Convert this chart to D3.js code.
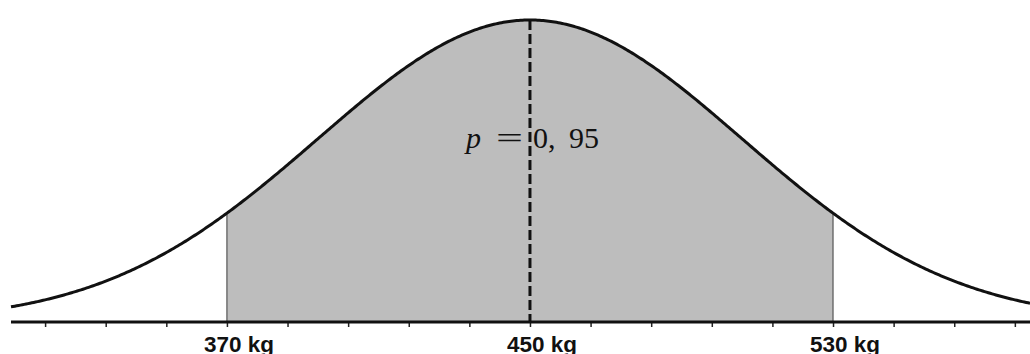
<!DOCTYPE html>
<html>
<head>
<meta charset="utf-8">
<script src="https://cdn.jsdelivr.net/npm/d3@7"></script>
<style>
	html, body { margin: 0; padding: 0; background: white; }
	svg { display: block; }
</style>
</head>
<body>
<div id="chart"></div>
<script>
// distribution and view
const mean = 450
const sigma = 56 // spread of the drawn bell
const xDomain = [313, 582]
const shadeRange = [370, 530]
const tickValues = [322, 338, 354, 370, 386, 402, 418, 434, 450, 466, 482, 498, 514, 530, 546, 562, 578]
const labelValues = [370, 450, 530]
const pValue = "0, 95"

const width = 1030
const height = 354

const svg = d3.select("#chart")
	.append("svg")
	.attr("width", width)
	.attr("height", height)

const x = d3.scaleLinear().domain(xDomain).range([11, 1030])

const pdf = (v) => Math.exp(-0.5 * ((v - mean) / sigma) ** 2)
const y = d3.scaleLinear().domain([0, 1]).range([322, 20])

// sample the density across the view
const samples = d3.range(xDomain[0], xDomain[1] + 0.5, 0.5).map((v) => ({ v, d: pdf(v) }))
const shaded = samples.filter((s) => s.v >= shadeRange[0] && s.v <= shadeRange[1])

const area = d3.area()
	.x((d) => x(d.v))
	.y0(y(0))
	.y1((d) => y(d.d))

const line = d3.line()
	.x((d) => x(d.v))
	.y((d) => y(d.d))

// shaded area
svg.append("path")
	.datum(shaded)
	.attr("d", area)
	.attr("fill", "#bdbdbd")

// boundary lines
svg.selectAll(".bound")
	.data(shadeRange)
	.enter()
	.append("line")
	.attr("class", "bound")
	.attr("x1", (d) => x(d))
	.attr("x2", (d) => x(d))
	.attr("y1", (d) => y(pdf(d)))
	.attr("y2", y(0))
	.attr("stroke", "#555")
	.attr("stroke-width", 1.2)

// mean dashed line
svg.append("line")
	.attr("x1", x(mean))
	.attr("x2", x(mean))
	.attr("y1", y(1))
	.attr("y2", y(0))
	.attr("stroke", "#111")
	.attr("stroke-width", 3)
	.attr("stroke-dasharray", "10,4")

// bell curve
svg.append("path")
	.datum(samples)
	.attr("d", line)
	.attr("fill", "none")
	.attr("stroke", "#111")
	.attr("stroke-width", 3)

// axis
const axis = d3.axisBottom(x)
	.tickValues(tickValues)
	.tickSize(5)
	.tickFormat("")

const axisG = svg.append("g")
	.attr("transform", `translate(0,${y(0)})`)
	.call(axis)

axisG.select(".domain").remove()
axisG.selectAll(".tick line").attr("stroke", "#222").attr("stroke-width", 1.5)

svg.append("line")
	.attr("x1", x(xDomain[0]))
	.attr("x2", width)
	.attr("y1", y(0))
	.attr("y2", y(0))
	.attr("stroke", "#111")
	.attr("stroke-width", 3)

// tick labels
svg.selectAll(".lbl")
	.data(labelValues)
	.enter()
	.append("text")
	.attr("class", "lbl")
	.attr("x", (d) => x(d) + 12)
	.attr("y", 352)
	.attr("text-anchor", "middle")
	.style("font-family", "'Liberation Sans', Arial, sans-serif")
	.style("font-weight", "bold")
	.style("font-size", "22.5px")
	.style("fill", "#111")
	.text((d) => `${d} kg`)

// probability label, set like a LaTeX formula
const pText = svg.append("text")
	.attr("y", 148)
	.style("font-family", "'Liberation Serif', 'DejaVu Serif', serif")
	.style("font-size", "30px")
	.style("fill", "#111")

pText.append("tspan").attr("x", 466).style("font-style", "italic").text("p")
pText.append("tspan")
	.attr("x", 496)
	.attr("textLength", 27)
	.attr("lengthAdjust", "spacingAndGlyphs")
	.text("=")
pText.append("tspan").attr("x", 533).attr("xml:space", "preserve").text(pValue.split(" ")[0])
pText.append("tspan").attr("x", 569).text(pValue.split(" ")[1])
</script>
</body>
</html>
